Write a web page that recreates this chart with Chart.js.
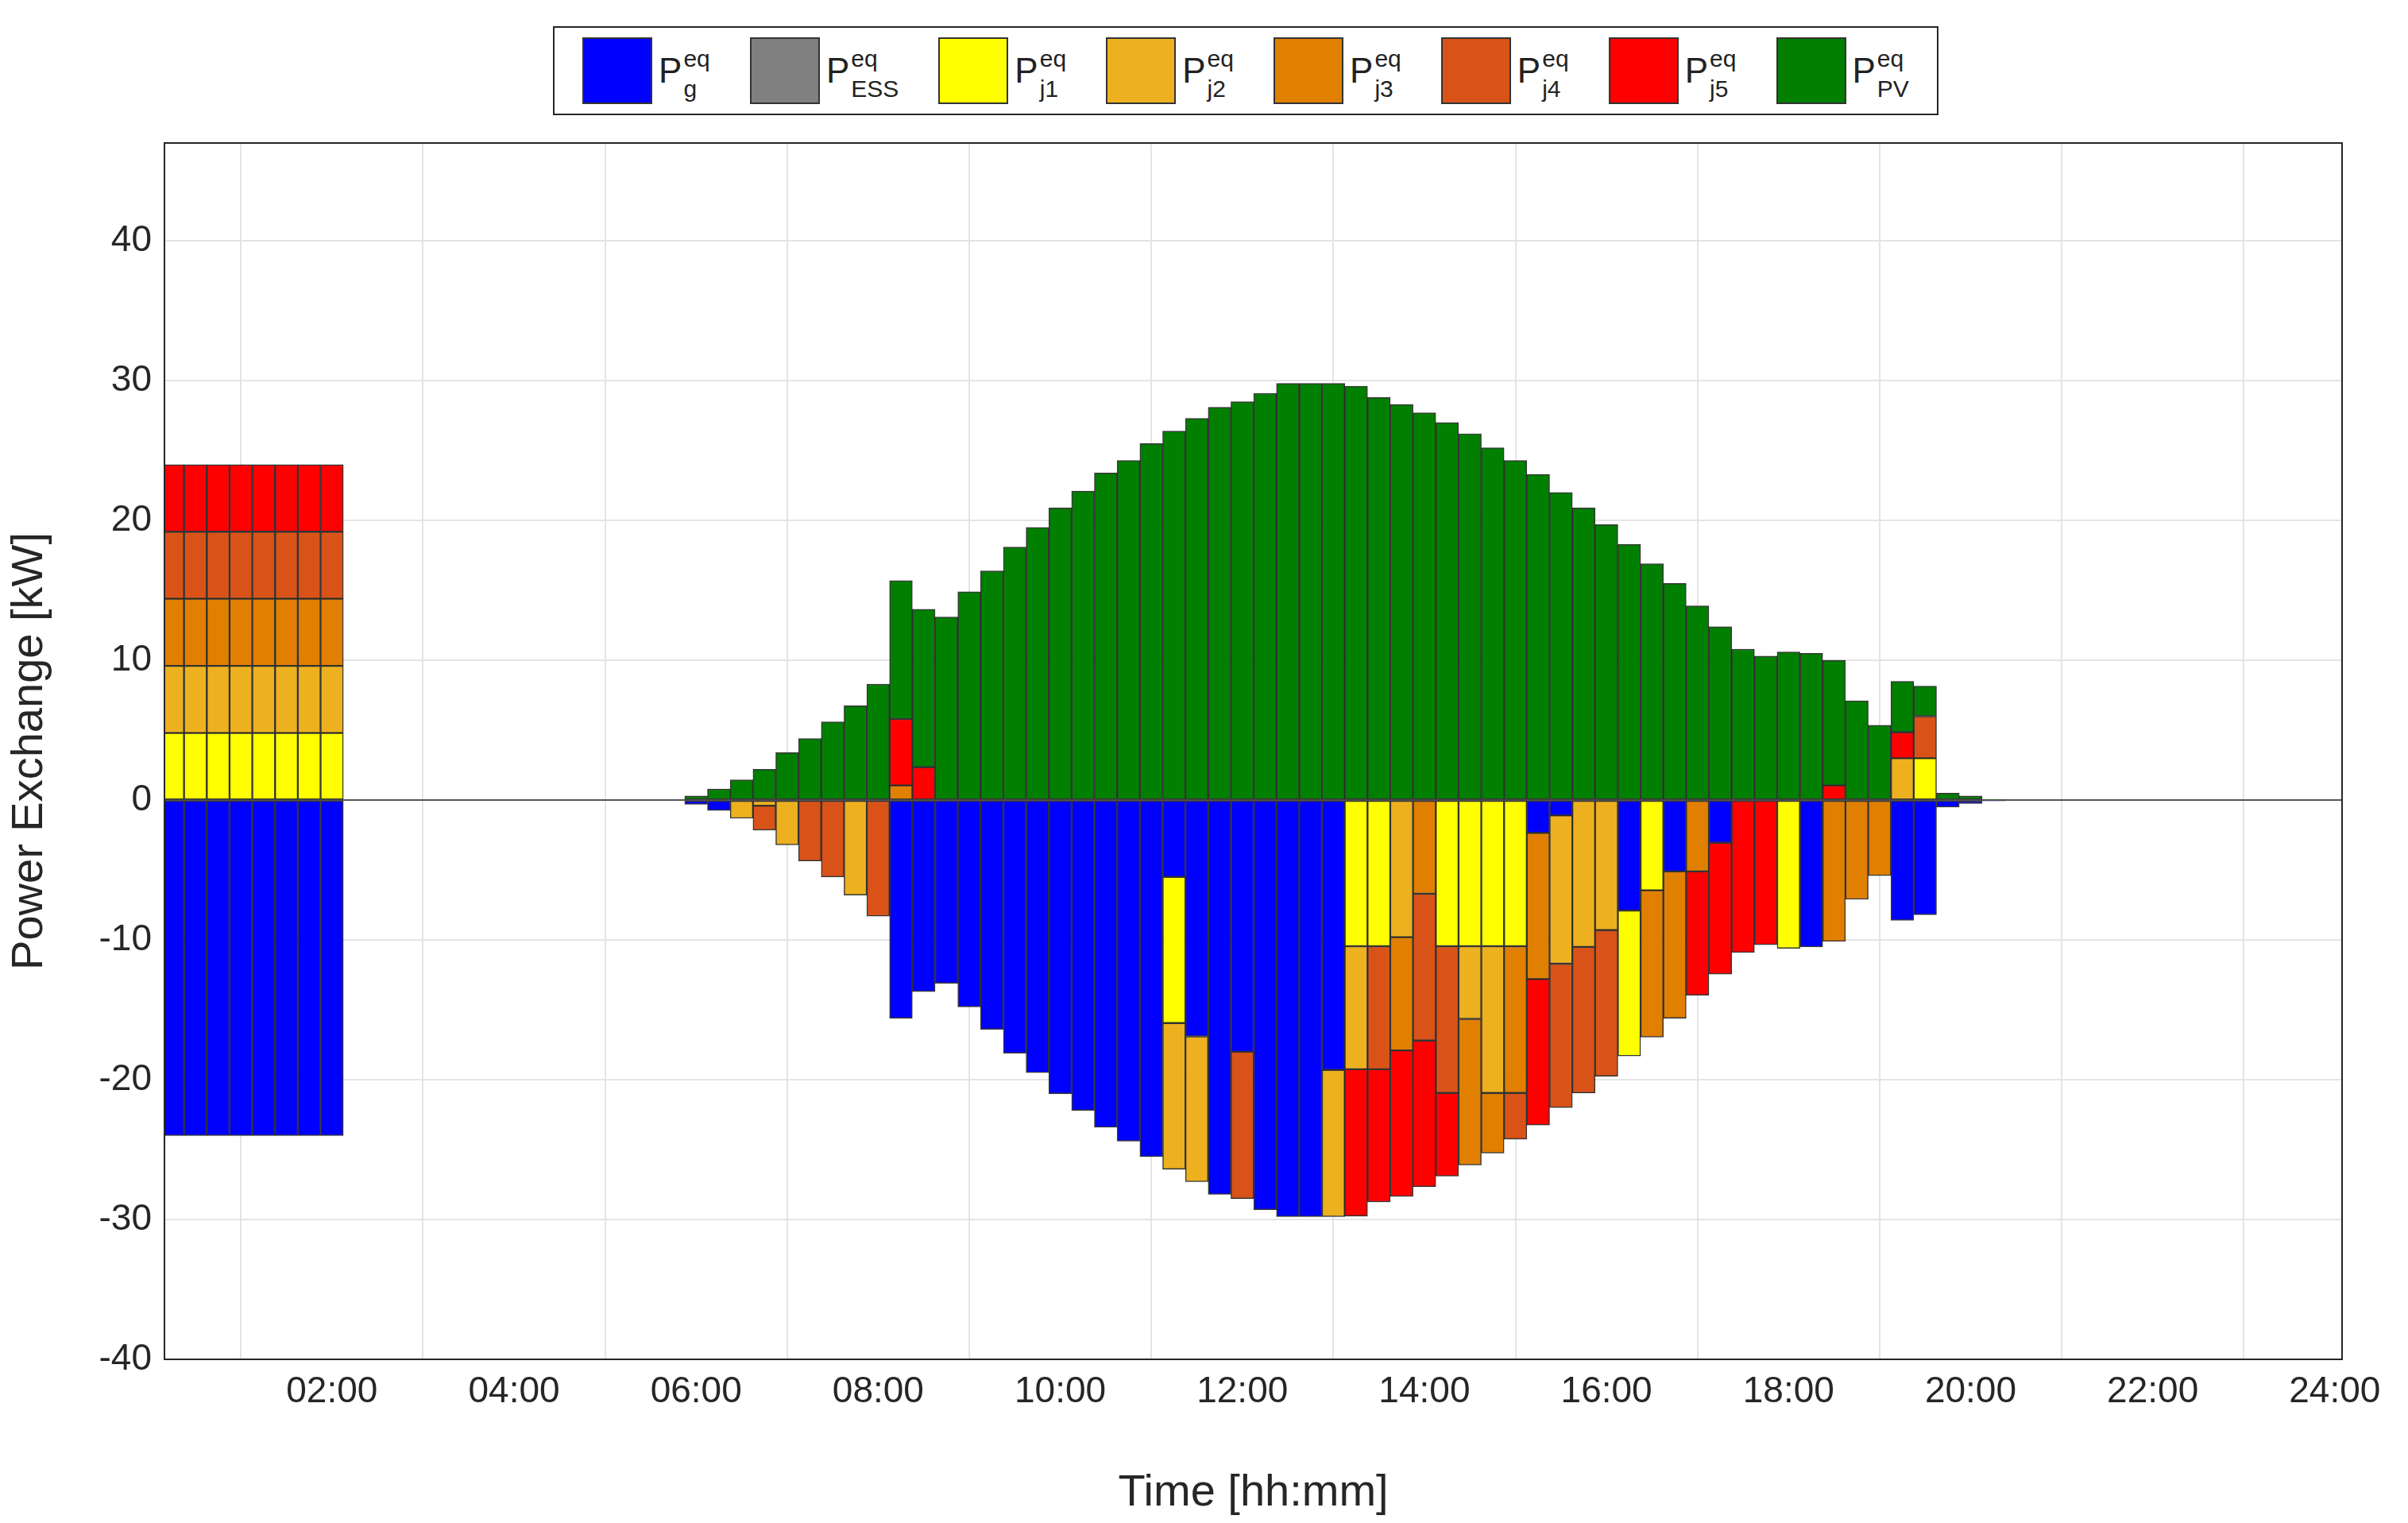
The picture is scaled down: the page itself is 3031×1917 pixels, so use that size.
<!DOCTYPE html>
<html>
<head>
<meta charset="utf-8">
<script src="https://cdn.jsdelivr.net/npm/chart.js@4"></script>
<style>
  html, body { margin: 0; padding: 0; background: #fff; }
  #wrap { position: relative; width: 3031px; height: 1917px; font-family: "Liberation Sans", Arial, sans-serif; }
  canvas { position: absolute; left: 0; top: 0; }
  #legend { position: absolute; left: 696px; top: 33px; width: 1744px; height: 112px; border: 2px solid #262626;
            background: #fff; display: flex; align-items: center; justify-content: space-around; box-sizing: border-box; padding: 0 10px; }
  .item { display: flex; align-items: center; }
  .sw { width: 88px; height: 84px; border: 2px solid #333; box-sizing: border-box; margin-right: 8px; }
  .lab { font-size: 44px; color: #222; display: flex; align-items: center; }
  .ss { display: inline-flex; flex-direction: column; font-size: 30px; line-height: 30px; margin-left: 2px; }
  .ss span:first-child { margin-top: -22px; }
  .ss span:last-child { margin-top: 8px; margin-bottom: -30px; }
</style>
</head>
<body>
<div id="wrap">
  <canvas id="c" width="3031" height="1917"></canvas>
  <div id="legend"></div>
</div>
<script>
// 96 quarter-hour slots, bar k centred at k*15 min
const times = [];
for (let k = 1; k <= 96; k++) times.push(k * 0.25);

const xTicks = [2, 4, 6, 8, 10, 12, 14, 16, 18, 20, 22, 24];
const yTicks = [-40, -30, -20, -10, 0, 10, 20, 30, 40];

const seriesNames = ['g', 'ESS', 'j1', 'j2', 'j3', 'j4', 'j5', 'PV'];
const seriesColors = ['#0000FF', '#808080', '#FFFF00', '#EDB120', '#E07F00', '#D95319', '#FF0000', '#007F00'];

const pG = [
  -24, -24, -24, -24, -24, -24, -24, -24,
  0, 0, 0, 0, 0, 0, 0, 0,
  0, 0, 0, 0, 0, 0, 0, -0.3,
  -0.75, 0, 0, 0, 0, 0, 0, 0,
  -15.6, -13.7, -13.1, -14.8, -16.4, -18.1, -19.5, -21.0,
  -22.2, -23.4, -24.4, -25.5, -5.5, -16.9, -28.2, -18.0,
  -29.3, -29.8, -29.8, -19.3, 0, 0, 0, 0,
  0, 0, 0, 0, -2.35, -1.1, 0, 0,
  -7.9, 0, -5.1, 0, -3.05, 0, 0, 0,
  -10.5, 0, 0, 0, -8.6, -8.2, -0.5, -0.25,
  -0.05, 0, 0, 0, 0, 0, 0, 0,
  0, 0, 0, 0, 0, 0, 0, 0
];
const pESS = [
  0, 0, 0, 0, 0, 0, 0, 0,  0, 0, 0, 0, 0, 0, 0, 0,  0, 0, 0, 0, 0, 0, 0, 0,
  0, 0, 0, 0, 0, 0, 0, 0,  0, 0, 0, 0, 0, 0, 0, 0,  0, 0, 0, 0, 0, 0, 0, 0,
  0, 0, 0, 0, 0, 0, 0, 0,  0, 0, 0, 0, 0, 0, 0, 0,  0, 0, 0, 0, 0, 0, 0, 0,
  0, 0, 0, 0, 0, 0, 0, 0,  0, 0, 0, 0, 0, 0, 0, 0,  0, 0, 0, 0, 0, 0, 0, 0
];
const pJ1 = [
  4.8, 4.8, 4.8, 4.8, 4.8, 4.8, 4.8, 4.8,
  0, 0, 0, 0, 0, 0, 0, 0,
  0, 0, 0, 0, 0, 0, 0, 0,
  0, 0, 0, 0, 0, 0, 0, 0,
  0, 0, 0, 0, 0, 0, 0, 0,
  0, 0, 0, 0, -10.45, 0, 0, 0,
  0, 0, 0, 0, -10.45, -10.45, 0, 0,
  -10.45, -10.45, -10.45, -10.45, 0, 0, 0, 0,
  -10.4, -6.45, 0, 0, 0, 0, 0, -10.6,
  0, 0, 0, 0, 0, 3.0, 0, 0,
  0, 0, 0, 0, 0, 0, 0, 0,
  0, 0, 0, 0, 0, 0, 0, 0
];
const pJ2 = [
  4.8, 4.8, 4.8, 4.8, 4.8, 4.8, 4.8, 4.8,
  0, 0, 0, 0, 0, 0, 0, 0,
  0, 0, 0, 0, 0, 0, 0, 0,
  0, -1.3, -0.4, -3.2, 0, 0, -6.8, 0,
  0, 0, 0, 0, 0, 0, 0, 0,
  0, 0, 0, 0, -10.45, -10.4, 0, 0,
  0, 0, 0, -10.5, -8.8, 0, -9.8, 0,
  0, -5.2, -10.5, 0, 0, -10.6, -10.5, -9.3,
  0, 0, 0, 0, 0, 0, 0, 0,
  0, 0, 0, 0, 3.0, 0, 0, 0,
  0, 0, 0, 0, 0, 0, 0, 0,
  0, 0, 0, 0, 0, 0, 0, 0
];
const pJ3 = [
  4.8, 4.8, 4.8, 4.8, 4.8, 4.8, 4.8, 4.8,
  0, 0, 0, 0, 0, 0, 0, 0,
  0, 0, 0, 0, 0, 0, 0, 0,
  0, 0, 0, 0, 0, 0, 0, 0,
  1.05, 0, 0, 0, 0, 0, 0, 0,
  0, 0, 0, 0, 0, 0, 0, 0,
  0, 0, 0, 0, 0, 0, -8.1, -6.7,
  0, -10.45, -4.3, -10.5, -10.45, 0, 0, 0,
  0, -10.5, -10.5, -5.1, 0, 0, 0, 0,
  0, -10.1, -7.1, -5.4, 0, 0, 0, 0,
  0, 0, 0, 0, 0, 0, 0, 0,
  0, 0, 0, 0, 0, 0, 0, 0
];
const pJ4 = [
  4.8, 4.8, 4.8, 4.8, 4.8, 4.8, 4.8, 4.8,
  0, 0, 0, 0, 0, 0, 0, 0,
  0, 0, 0, 0, 0, 0, 0, 0,
  0, 0, -1.75, 0, -4.35, -5.5, 0, -8.3,
  0, 0, 0, 0, 0, 0, 0, 0,
  0, 0, 0, 0, 0, 0, 0, -10.5,
  0, 0, 0, 0, 0, -8.8, 0, -10.5,
  -10.5, 0, 0, -3.3, 0, -10.3, -10.45, -10.45,
  0, 0, 0, 0, 0, 0, 0, 0,
  0, 0, 0, 0, 0, 3.0, 0, 0,
  0, 0, 0, 0, 0, 0, 0, 0,
  0, 0, 0, 0, 0, 0, 0, 0
];
const pJ5 = [
  4.8, 4.8, 4.8, 4.8, 4.8, 4.8, 4.8, 4.8,
  0, 0, 0, 0, 0, 0, 0, 0,
  0, 0, 0, 0, 0, 0, 0, 0,
  0, 0, 0, 0, 0, 0, 0, 0,
  4.75, 2.35, 0, 0, 0, 0, 0, 0,
  0, 0, 0, 0, 0, 0, 0, 0,
  0, 0, 0, 0, -10.5, -9.5, -10.45, -10.45,
  -5.95, 0, 0, 0, -10.45, 0, 0, 0,
  0, 0, 0, -8.85, -9.4, -10.9, -10.35, 0,
  0, 1.05, 0, 0, 1.85, 0, 0, 0,
  0, 0, 0, 0, 0, 0, 0, 0,
  0, 0, 0, 0, 0, 0, 0, 0
];
const pPV = [
  0, 0, 0, 0, 0, 0, 0, 0,
  0, 0, 0, 0, 0, 0, 0, 0,
  0, 0, 0, 0, 0, 0, 0, 0.3,
  0.8, 1.45, 2.2, 3.4, 4.4, 5.6, 6.75, 8.3,
  9.9, 11.3, 13.1, 14.9, 16.4, 18.1, 19.5, 20.9,
  22.1, 23.4, 24.3, 25.5, 26.4, 27.3, 28.1, 28.5,
  29.1, 29.8, 29.8, 29.8, 29.6, 28.8, 28.3, 27.7,
  27.0, 26.2, 25.2, 24.3, 23.3, 22.0, 20.9, 19.7,
  18.3, 16.9, 15.5, 13.9, 12.4, 10.8, 10.3, 10.6,
  10.5, 8.95, 7.1, 5.35, 3.65, 2.15, 0.5, 0.3,
  0.05, 0, 0, 0, 0, 0, 0, 0,
  0, 0, 0, 0, 0, 0, 0, 0
];

const seriesValues = [pG, pESS, pJ1, pJ2, pJ3, pJ4, pJ5, pPV];

// HTML legend (needs super/subscripts)
const legend = document.getElementById('legend');
seriesNames.forEach((n, i) => {
  const it = document.createElement('div');
  it.className = 'item';
  it.innerHTML = '<div class="sw" style="background:' + seriesColors[i] + '"></div>' +
    '<div class="lab">P<span class="ss"><span>eq</span><span>' + n + '</span></span></div>';
  legend.appendChild(it);
});

const boxPlugin = {
  id: 'box',
  afterDraw(chart) {
    const a = chart.chartArea, ctx = chart.ctx;
    ctx.save();
    ctx.strokeStyle = '#262626';
    ctx.lineWidth = 2;
    ctx.strokeRect(a.left, a.top, a.right - a.left, a.bottom - a.top);
    ctx.restore();
  }
};

const fmt = v => String(v).padStart(2, '0') + ':00';

new Chart(document.getElementById('c').getContext('2d'), {
  type: 'bar',
  data: {
    datasets: seriesNames.map((n, i) => ({
      label: n,
      data: times.map((t, k) => ({ x: t, y: seriesValues[i][k] })),
      backgroundColor: seriesColors[i],
      borderColor: 'rgba(20,20,20,0.85)',
      borderWidth: 1.5,
      borderSkipped: false,
      barPercentage: 1,
      categoryPercentage: 1
    }))
  },
  options: {
    responsive: false,
    animation: false,
    layout: { padding: { top: 180, right: 83, left: 0, bottom: 0 } },
    plugins: { legend: { display: false }, tooltip: { enabled: false } },
    scales: {
      x: {
        type: 'linear', stacked: true, offset: false,
        min: 0.16, max: 24.08,
        afterBuildTicks: s => { s.ticks = xTicks.map(v => ({ value: v })); },
        afterFit: s => { s.height = 206; },
        ticks: { callback: v => fmt(v), color: '#262626', font: { size: 46, family: 'Liberation Sans' }, padding: 14, maxRotation: 0 },
        grid: { color: '#e4e4e4', lineWidth: 2, drawTicks: false },
        border: { color: '#262626', width: 2 },
        title: { display: true, text: 'Time [hh:mm]', color: '#262626', font: { size: 56, family: 'Liberation Sans' }, padding: { top: 12 } }
      },
      y: {
        stacked: true,
        min: -40, max: 47,
        afterBuildTicks: s => { s.ticks = yTicks.map(v => ({ value: v })); },
        afterFit: s => { s.width = 207; },
        ticks: { color: '#262626', font: { size: 46, family: 'Liberation Sans' }, padding: 16 },
        grid: { color: c => c.tick && c.tick.value === 0 ? '#555' : '#e4e4e4', lineWidth: 2, drawTicks: false },
        border: { color: '#262626', width: 2 },
        title: { display: true, text: 'Power Exchange [kW]', color: '#262626', font: { size: 56, family: 'Liberation Sans' }, padding: { bottom: 8 } }
      }
    }
  },
  plugins: [boxPlugin]
});
</script>
</body>
</html>
